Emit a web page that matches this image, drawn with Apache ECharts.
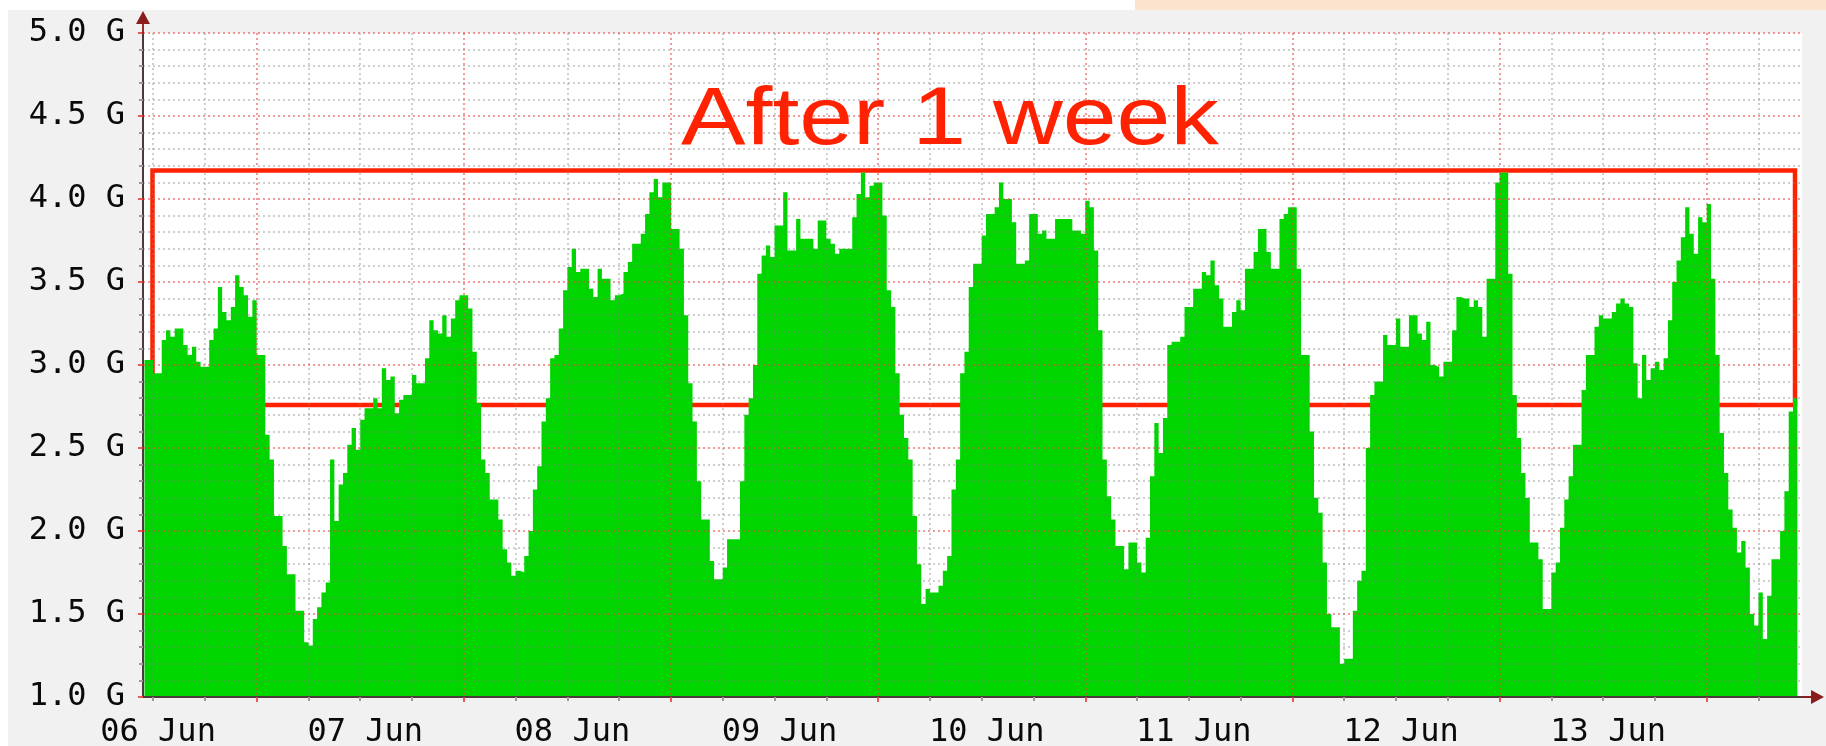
<!DOCTYPE html>
<html><head><meta charset="utf-8">
<script src="https://cdn.jsdelivr.net/npm/echarts@6/dist/echarts.min.js"></script>
<style>
html,body{margin:0;padding:0;background:#ffffff;overflow:hidden;}
#bg{position:absolute;left:8px;top:10px;width:1818px;height:736px;background:#f1f1f1;}
#peach{position:absolute;left:1135px;top:0;width:691px;height:10px;background:#fbe3cd;}
#chart{position:absolute;left:0;top:0;width:1826px;height:746px;}
</style></head><body>
<div id="bg"></div><div id="peach"></div><div id="chart"></div>
<script>
// ---- data (hours since 06 Jun label, 30-minute samples, values in G) ----
const startHour = -1.0;
const stepHours = 0.5;
const traffic = [
 3.03,3.03,2.95,2.95,3.15,3.21,3.17,3.22,3.22,3.12,3.06,3.11,3.02,2.99,2.99,3.15,3.22,3.47,3.32,3.27,3.35,3.54,3.47,3.42,
 3.29,3.39,3.06,3.06,2.58,2.43,2.09,2.09,1.91,1.74,1.74,1.52,1.52,1.33,1.31,1.47,1.54,1.63,1.69,2.43,2.06,2.28,2.35,2.52,
 2.62,2.49,2.67,2.74,2.74,2.80,2.74,2.98,2.91,2.93,2.71,2.79,2.82,2.82,2.94,2.89,2.89,3.04,3.27,3.21,3.19,3.30,3.17,3.28,
 3.39,3.42,3.42,3.34,3.08,2.77,2.43,2.35,2.19,2.19,2.07,1.89,1.81,1.73,1.76,1.75,1.85,2.00,2.25,2.39,2.66,2.80,3.04,3.06,
 3.22,3.45,3.59,3.70,3.56,3.58,3.58,3.46,3.41,3.58,3.52,3.52,3.39,3.42,3.43,3.56,3.62,3.73,3.73,3.79,3.91,4.04,4.12,4.01,
 4.10,4.10,3.82,3.82,3.70,3.30,2.89,2.66,2.30,2.07,2.07,1.82,1.71,1.71,1.78,1.95,1.95,1.95,2.30,2.70,2.80,3.00,3.55,3.66,
 3.72,3.65,3.84,3.84,4.04,3.69,3.69,3.88,3.76,3.76,3.76,3.70,3.87,3.87,3.76,3.73,3.67,3.70,3.70,3.70,3.89,4.03,4.16,4.01,
 4.08,4.10,4.10,3.90,3.45,3.35,2.95,2.70,2.56,2.43,2.09,1.80,1.56,1.65,1.63,1.63,1.67,1.76,1.85,2.25,2.43,2.95,3.08,3.47,
 3.61,3.61,3.78,3.91,3.91,3.95,4.10,4.00,4.00,3.86,3.61,3.61,3.63,3.91,3.91,3.79,3.81,3.76,3.76,3.88,3.88,3.88,3.88,3.81,
 3.81,3.79,3.99,3.95,3.69,3.21,2.43,2.21,2.07,1.91,1.91,1.77,1.93,1.93,1.81,1.75,1.96,2.33,2.65,2.47,2.68,3.12,3.14,3.14,
 3.17,3.35,3.35,3.46,3.46,3.56,3.54,3.63,3.48,3.40,3.23,3.23,3.32,3.39,3.33,3.58,3.58,3.68,3.82,3.82,3.68,3.58,3.58,3.88,
 3.91,3.95,3.95,3.58,3.06,3.06,2.60,2.20,2.11,1.81,1.50,1.42,1.42,1.20,1.23,1.23,1.52,1.70,1.76,2.50,2.82,2.90,2.90,3.18,
 3.12,3.12,3.28,3.11,3.11,3.30,3.30,3.19,3.15,3.26,3.00,2.99,2.93,3.02,3.02,3.21,3.41,3.40,3.40,3.35,3.39,3.35,3.17,3.52,
 3.52,4.10,4.16,4.16,3.55,2.82,2.56,2.35,2.20,1.93,1.93,1.83,1.53,1.53,1.75,1.81,2.02,2.19,2.33,2.52,2.52,2.85,3.06,3.06,
 3.23,3.30,3.28,3.28,3.32,3.37,3.40,3.37,3.35,3.01,2.80,3.06,2.91,2.98,3.02,2.97,3.04,3.27,3.50,3.63,3.77,3.95,3.79,3.67,
 3.89,3.86,3.97,3.52,3.06,2.59,2.35,2.13,2.02,1.87,1.94,1.78,1.50,1.43,1.63,1.35,1.61,1.83,1.83,2.00,2.24,2.72,2.80
];
const dayLabels = ['06 Jun','07 Jun','08 Jun','09 Jun','10 Jun','11 Jun','12 Jun','13 Jun'];
const dayLabelHours = [0,24,48,72,96,120,144,168];
const majorGridHours = [12,36,60,84,108,132,156,180];
const minorGridHours = [0,6,18,24,30,42,48,54,66,72,78,90,96,102,114,120,126,138,144,150,162,168,174,186];
const yTickLabels = ['1.0 G','1.5 G','2.0 G','2.5 G','3.0 G','3.5 G','4.0 G','4.5 G','5.0 G'];
const titleText = 'After 1 week';
const highlightBox = { fromHour: -0.07, toHour: 190.23, low: 2.759, high: 4.172 };

// ---- axis extents ----
const xMin = -1.17, xMax = 191.04;
const yMin = 1.0, yMax = 5.0, yStep = 0.5;

const seriesData = traffic.map((v, i) => [startHour + i * stepHours, v]);
seriesData.push([startHour + traffic.length * stepHours, traffic[traffic.length - 1]]);

const GREEN = '#00d500';
const MONO = 'DejaVu Sans Mono';
const AXIS_COLOR = '#4a3a3a';
const ARROW_COLOR = '#8b1c1c';
const MAJOR_GRID = 'rgba(232,70,70,0.55)';
const MINOR_GRID = 'rgba(130,130,130,0.38)';
const arrowPath = 'path://M7,0L14,13L7.9,13L7.9,22L6.1,22L6.1,13L0,13Z';

const chart = echarts.init(document.getElementById('chart'), null, { renderer: 'canvas' });
chart.setOption({
  animation: false,
  backgroundColor: 'transparent',
  graphic: [{
    type: 'text', x: 681, y: 121, scaleX: 1.18, scaleY: 1, z: 20, silent: true,
    style: { text: titleText, fontFamily: 'Liberation Sans', fontSize: 82, fill: '#ff2200',
             align: 'left', verticalAlign: 'middle' }
  }],
  grid: { left: 143, top: 33, right: 24, bottom: 49, containLabel: false, outerBoundsMode: 'none',
          backgroundColor: '#ffffff', show: true, borderWidth: 0 },
  xAxis: [
    {
      type: 'value', min: xMin, max: xMax, position: 'bottom', z: 3,
      axisLine: { show: true, onZero: false, lineStyle: { color: AXIS_COLOR, width: 2 } },
      axisTick: { show: true, customValues: majorGridHours, length: 5, lineStyle: { color: 'rgba(232,70,70,0.9)', width: 2 } },
      axisLabel: {
        show: true, customValues: dayLabelHours, margin: 20,
        formatter: v => dayLabels[dayLabelHours.indexOf(v)] || '',
        fontFamily: MONO, fontSize: 32, color: '#0a0a0a', padding: [0, 0, 0, 10]
      },
      splitLine: { show: true, lineStyle: { color: MAJOR_GRID, width: 2, type: [2, 3] } }
    },
    {
      type: 'value', min: xMin, max: xMax, position: 'bottom', z: 3,
      axisLine: { show: true, onZero: false, symbol: ['none', arrowPath], symbolSize: [14, 22], symbolOffset: [0, 11],
                  lineStyle: { color: ARROW_COLOR, width: 0 } },
      axisTick: { show: true, customValues: minorGridHours, length: 4, lineStyle: { color: '#9a9a9a', width: 2 } },
      axisLabel: { show: false },
      splitLine: { show: true, lineStyle: { color: MINOR_GRID, width: 2, type: [2, 3] } }
    }
  ],
  yAxis: [
    {
      type: 'value', min: yMin, max: yMax, interval: yStep, position: 'left', z: 3,
      axisLine: { show: true, onZero: false, lineStyle: { color: AXIS_COLOR, width: 2 } },
      axisTick: { show: true, length: 5, lineStyle: { color: 'rgba(232,70,70,0.9)', width: 2 } },
      minorTick: { show: true, splitNumber: 5, length: 4, lineStyle: { color: '#9a9a9a', width: 2 } },
      axisLabel: {
        margin: 18, fontFamily: MONO, fontSize: 32, color: '#0a0a0a', padding: [3, 0, 0, 0],
        formatter: v => yTickLabels[Math.round((v - yMin) / yStep)] || ''
      },
      splitLine: { show: true, lineStyle: { color: MAJOR_GRID, width: 2, type: [2, 3] } },
      minorSplitLine: { show: true, lineStyle: { color: MINOR_GRID, width: 2, type: [2, 3] } }
    },
    {
      type: 'value', min: yMin, max: yMax, position: 'left', z: 3,
      axisLine: { show: true, onZero: false, symbol: ['none', arrowPath], symbolSize: [14, 22], symbolOffset: [0, 11],
                  lineStyle: { color: ARROW_COLOR, width: 0 } },
      axisTick: { show: false }, axisLabel: { show: false }, splitLine: { show: false }
    }
  ],
  series: [
    {
      type: 'line', xAxisIndex: 0, yAxisIndex: 0, data: seriesData, step: 'end',
      showSymbol: false, symbol: 'none', silent: true, z: 2,
      itemStyle: { color: GREEN },
      lineStyle: { width: 0, color: GREEN },
      areaStyle: { color: GREEN, opacity: 1, origin: 'start' }
    },
    {
      type: 'line', xAxisIndex: 0, yAxisIndex: 0, data: [], z: 10, silent: true,
      markArea: {
        silent: true, label: { show: false },
        itemStyle: { color: 'rgba(0,0,0,0)', borderColor: '#ff2200', borderWidth: 4.5 },
        data: [[{ coord: [highlightBox.fromHour, highlightBox.high] }, { coord: [highlightBox.toHour, highlightBox.low] }]]
      }
    }
  ]
});
</script>
</body></html>
